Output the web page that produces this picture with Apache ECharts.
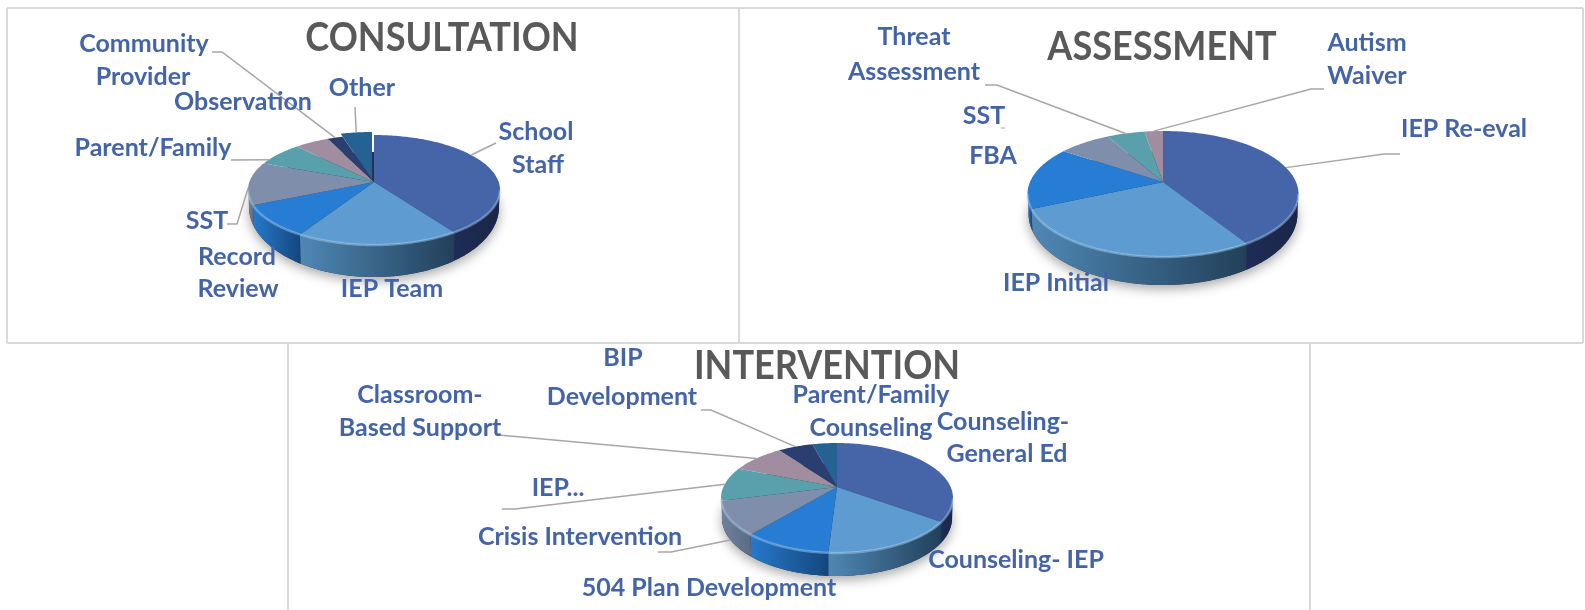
<!DOCTYPE html>
<html>
<head>
<meta charset="utf-8" />
<title>Consultation, Assessment, Intervention</title>
<script src="https://cdn.jsdelivr.net/npm/echarts@6/dist/echarts.min.js"></script>
<style>
  html, body { margin: 0; padding: 0; background: #fff; }
  #chart { width: 1585px; height: 610px; }
</style>
</head>
<body>
<div id="chart"></div>
<script>
// values, share of each pie in percent
const consultationNames = ["School\nStaff", "IEP Team", "Record\nReview", "SST", "Parent/Family", "Observation", "Community\nProvider", "Other"];
const consultationValues = [39, 21, 10.5, 12.5, 6.5, 4.5, 2, 4];
const assessmentNames = ["IEP Re-eval", "IEP Initial", "FBA", "SST", "Threat\nAssessment", "Autism\nWaiver"];
const assessmentValues = [39.4, 31.8, 15.7, 6.4, 4.5, 2.2];
const interventionNames = ["Counseling-\nGeneral Ed", "Counseling- IEP", "504 Plan Development", "Crisis Intervention", "IEP...", "Classroom-\nBased Support", "BIP\nDevelopment", "Parent/Family\nCounseling"];
const interventionValues = [32.2, 19, 12.2, 10.8, 9.7, 7.8, 4.9, 3.4];

// slice colours, top face
const topColors = ["#4664A8", "#5E9BD1", "#277CD4", "#7F8FAB", "#59A0AC", "#A08D9F", "#2A3F70", "#266193"];
// wall colours, left to right
const sideColors = [
  ["#1E2D56", "#1A2647"],
  ["#4F88B5", "#22405A"],
  ["#2679CC", "#14477D"],
  ["#6F819C", "#5A6B85"],
  ["#4A8791", "#3A6E78"],
  ["#86768A", "#6E6076"],
  ["#22345C", "#1B2A4C"],
  ["#1F4F78", "#18405F"],
];
const textColor = "#4464A8";
const labelFont = "bold 25px Lato";

// labels: one [x, y] per text line, same order as the names
// leaders: frac = where on the slice's rim it lands, path = the free end
const pies = [
  {
    names: consultationNames,
    values: consultationValues,
    cx: 374, ey: 190, ay: 182, rx: 126, ry: 55, dSide: 17, dFront: 32,
    explode: { 7: [-2, -3] },
    labels: [[[536, 132], [538, 165]], [[392, 289]], [[237, 257], [238, 289]], [[207, 221]], [[153, 148]], [[243, 102]], [[144, 44], [143, 77]], [[362, 88]]],
    leaders: [
      { i: 0, frac: 0.36, path: [[496, 143]] },
      { i: 3, frac: 0.4, path: [[227, 224], [237, 224]] },
      { i: 4, frac: 0.2, path: [[231, 160]] },
      { i: 6, frac: 0.5, path: [[212, 52], [222, 52]] },
      { i: 7, frac: 0.5, path: [[355, 107]] },
    ],
  },
  {
    names: assessmentNames,
    values: assessmentValues,
    cx: 1163, ey: 194, ay: 182, rx: 135.5, ry: 63, dSide: 20, dFront: 28,
    explode: {},
    labels: [[[1464, 129]], [[1056, 283]], [[993, 156]], [[984, 116]], [[914, 37], [914, 72]], [[1367, 43], [1367, 76]]],
    leaders: [
      { i: 0, frac: 0.46, path: [[1400, 154], [1384, 154]] },
      { i: 4, frac: 0.5, path: [[985, 85], [997, 85]] },
      { i: 5, frac: 0.5, path: [[1324, 89], [1311, 89]] },
    ],
    stubs: [[[1001, 128], [1005, 128]]],
  },
  {
    names: interventionNames,
    values: interventionValues,
    cx: 837, ey: 498, ay: 487, rx: 116, ry: 55, dSide: 20, dFront: 23,
    explode: {},
    labels: [[[1003, 422], [1007, 454]], [[1016, 560]], [[709, 588]], [[580, 537]], [[558, 488]], [[420, 395], [420, 428]], [[623, 358], [622, 397]], [[871, 395], [871, 428]]],
    leaders: [
      { i: 3, frac: 0.5, wall: true, path: [[658, 552], [671, 552]] },
      { i: 4, frac: 0.5, path: [[502, 509], [515, 509]] },
      { i: 5, frac: 0.5, path: [[499, 435]] },
      { i: 6, frac: 0.5, path: [[701, 410], [711, 410]] },
    ],
  },
];

const titles = [
  { text: "CONSULTATION", x: 442, y: 38 },
  { text: "ASSESSMENT", x: 1162, y: 47 },
  { text: "INTERVENTION", x: 827, y: 366 },
];

// table rules behind the charts
const rules = [
  [7, 8, 1583, 8], [7, 343, 1583, 343], [7, 8, 7, 343], [739, 8, 739, 343], [1583, 8, 1583, 343],
  [288, 343, 288, 610], [1310, 343, 1310, 610],
];

function rimPoint(p, deg, shift) {
  const a = (deg * Math.PI) / 180;
  return [p.cx + shift[0] + p.rx * Math.sin(a), p.ey + shift[1] - p.ry * Math.cos(a)];
}

function wallPoint(p, deg) {
  const a = (deg * Math.PI) / 180;
  const depth = p.dSide + (p.dFront - p.dSide) * Math.max(0, -Math.cos(a));
  return [p.cx + p.rx * 0.992 * Math.sin(a), p.ey - p.ry * Math.cos(a) + depth];
}

function degrees(from, to) {
  const list = [];
  for (let d = from; d < to; d += 1) list.push(d);
  list.push(to);
  return list;
}

function pieSeries(p) {
  const total = p.values.reduce((a, b) => a + b, 0);
  const starts = [];
  let sum = 0;
  p.values.forEach((v) => {
    starts.push((sum / total) * 360);
    sum += v;
  });

  return {
    type: "custom",
    coordinateSystem: "none",
    silent: true,
    data: p.values,
    renderItem(params, api) {
      const i = params.dataIndex;
      const from = starts[i];
      const to = from + (api.value(0) / total) * 360;
      const shift = p.explode[i] || [0, 0];
      const children = [];

      // soft shadow under the whole pie, only once
      if (i === 0) {
        children.push({
          type: "polygon",
          z2: 0,
          shape: { points: degrees(0, 360).map((d) => wallPoint(p, d)) },
          style: { fill: "#24324f", shadowBlur: 12, shadowColor: "rgba(0,0,0,0.35)", shadowOffsetY: 4 },
        });
      }

      // front wall
      const wallFrom = Math.max(from, 90);
      const wallTo = Math.min(to, 270);
      if (wallTo > wallFrom) {
        const arc = degrees(wallFrom, wallTo);
        const pts = arc.map((d) => rimPoint(p, d, [0, 0]));
        const lower = arc.map((d) => wallPoint(p, d)).reverse();
        const side = sideColors[i];
        children.push({
          type: "polygon",
          z2: 1,
          shape: { points: pts.concat(lower) },
          style: {
            fill: new echarts.graphic.LinearGradient(1, 0, 0, 0, [
              { offset: 0, color: side[1] },
              { offset: 1, color: side[0] },
            ]),
          },
        });
        // light bevel along the front rim
        children.push({
          type: "polyline",
          z2: 3,
          shape: { points: pts },
          style: { fill: "none", stroke: "rgba(190,225,255,0.4)", lineWidth: 2.5 },
        });
      }

      // top face
      const apex = [p.cx + shift[0], p.ay + shift[1]];
      children.push({
        type: "polygon",
        z2: 2,
        shape: { points: [apex].concat(degrees(from, to).map((d) => rimPoint(p, d, shift))) },
        style: { fill: topColors[i] },
      });

      // leader lines
      (p.leaders || []).filter((l) => l.i === i).forEach((l) => {
        const deg = from + (to - from) * l.frac;
        const end = l.wall ? wallPoint(p, deg) : rimPoint(p, deg, shift);
        children.push({
          type: "polyline",
          z2: 4,
          shape: { points: l.path.concat([end]) },
          style: { fill: "none", stroke: "#A6A6A6", lineWidth: 1.5 },
        });
      });
      if (i === 0) {
        (p.stubs || []).forEach((s) => {
          children.push({
            type: "polyline",
            z2: 4,
            shape: { points: s },
            style: { fill: "none", stroke: "#A6A6A6", lineWidth: 1 },
          });
        });
      }

      // category label, line by line
      p.names[i].split("\n").forEach((line, n) => {
        const pos = p.labels[i][n];
        children.push({
          type: "text",
          z2: 5,
          x: pos[0],
          y: pos[1],
          style: { text: line, fill: textColor, font: labelFont, align: "center", verticalAlign: "middle" },
        });
      });

      return { type: "group", children };
    },
  };
}

const chart = echarts.init(document.getElementById("chart"), null, { renderer: "canvas" });
// titles are squeezed a little, the originals are tall and narrow
const titleText = titles.map((t) => ({
  type: "text",
  silent: true,
  z: 10,
  x: t.x,
  y: t.y,
  scaleX: 0.88,
  style: { text: t.text, fill: "#595959", font: "bold 41px Lato", align: "center", verticalAlign: "middle" },
}));
const ruleLines = rules.map((r) => ({
  type: "line",
  silent: true,
  z: -1,
  shape: { x1: r[0], y1: r[1], x2: r[2], y2: r[3] },
  style: { stroke: "#D9D9D9", lineWidth: 2 },
}));
chart.setOption({
  animation: false,
  backgroundColor: "#fff",
  graphic: ruleLines.concat(titleText),
  series: pies.map(pieSeries),
});
</script>
</body>
</html>
